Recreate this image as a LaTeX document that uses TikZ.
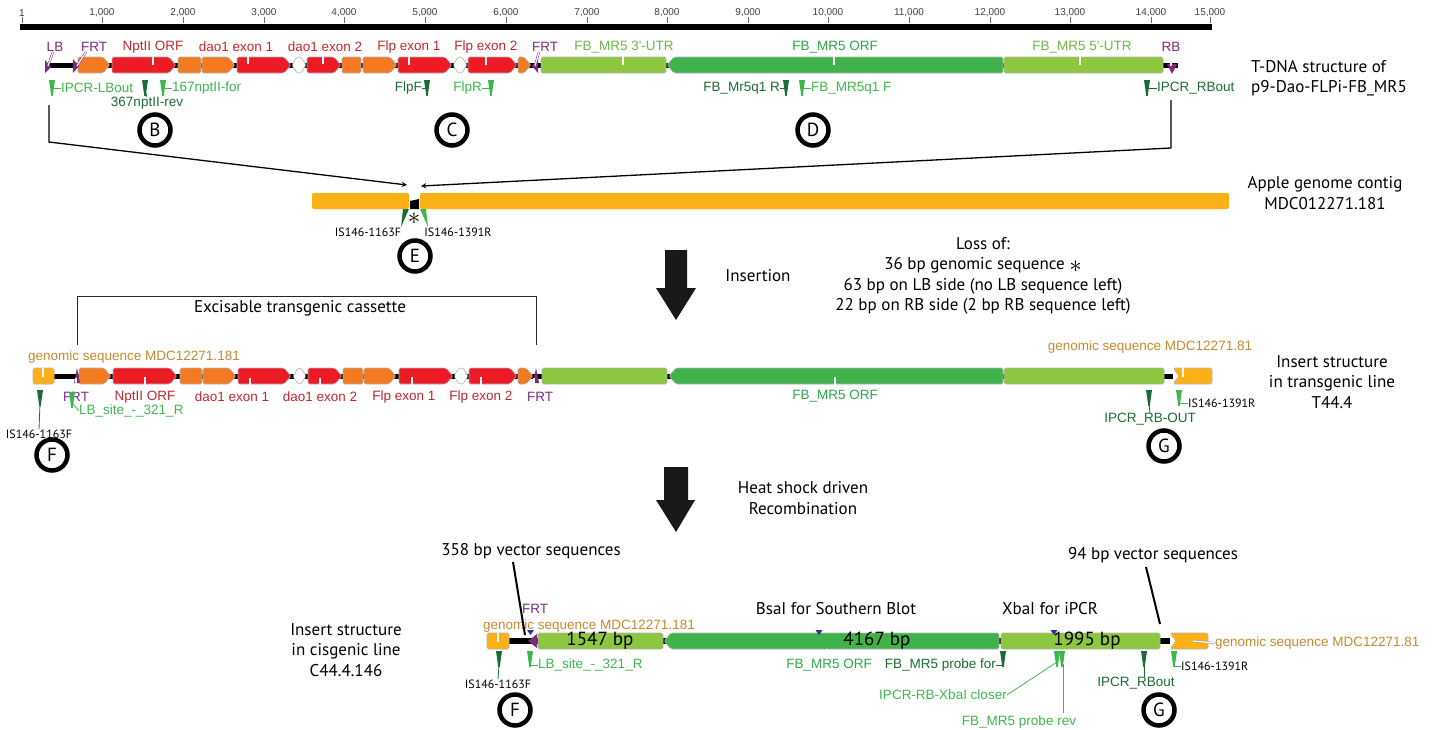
\documentclass[tikz,border=0pt]{standalone}
\usepackage{fontspec}
\setmainfont{PT Sans}
\newfontfamily\mapfont[Ligatures=TeXOff]{Liberation Sans}
\usepackage{xcolor}
\usetikzlibrary{shapes.geometric, arrows}

\definecolor{exred}{HTML}{ED1C24}
\definecolor{exorange}{HTML}{F37A21}
\definecolor{utrgreen}{HTML}{8DC63F}
\definecolor{orfgreen}{HTML}{3FB34A}
\definecolor{gengold}{HTML}{FBB116}
\definecolor{frtpurple}{HTML}{7D2A7F}
\definecolor{sitenavy}{HTML}{2E3192}
\definecolor{redtext}{HTML}{C0272D}
\definecolor{goldtext}{HTML}{C68A2E}
\definecolor{darkgreen}{HTML}{1D6B37}
\definecolor{lightgreen}{HTML}{3DB64B}
\definecolor{utrtext}{HTML}{6CB844}
\definecolor{orftext}{HTML}{2CA64A}

\tikzstyle{feat} = [draw=black!30, line width=0.6pt, rounded corners=1.5pt]
\tikzstyle{rlab} = [font=\mapfont\fontsize{10}{11}\selectfont, text=black!75, inner sep=0pt]
\tikzstyle{mlab} = [font=\mapfont\fontsize{13.5}{15}\selectfont, inner sep=0pt]
\tikzstyle{slab} = [font=\fontsize{12}{13}\selectfont, inner sep=0pt]
\tikzstyle{note} = [font=\fontsize{17}{20.5}\selectfont, align=center, inner sep=0pt]
\tikzstyle{bp} = [font=\fontsize{19}{20}\selectfont, inner sep=0pt]
\tikzstyle{letter} = [circle, draw=black, line width=4.5pt, minimum size=31pt, inner sep=0pt, font=\fontsize{19}{20}\selectfont]
\tikzstyle{arrow} = [line width=1.3pt,->,>=stealth]
\tikzstyle{labtick} = [draw=black!40, double=white, double distance=1.2pt, line width=0.5pt]
\tikzstyle{lead} = [line width=0.8pt]
\tikzstyle{pointer} = [line width=2pt]

\newcommand{\fwd}[4]{\draw[feat, fill=#4] (#1,#3-8) -- (#2-7,#3-8) -- (#2,#3) -- (#2-7,#3+8) -- (#1,#3+8) -- cycle;}
\newcommand{\rvs}[4]{\draw[feat, fill=#4] (#1,#3) -- (#1+7,#3-8) -- (#2,#3-8) -- (#2,#3+8) -- (#1+7,#3+8) -- cycle;}
\newcommand{\blk}[4]{\draw[feat, fill=#4] (#1,#3-8) rectangle (#2,#3+8);}
\newcommand{\hexa}[3]{\draw[feat, fill=white] (#1,#3) -- (#1+5,#3-8) -- (#2-5,#3-8) -- (#2,#3) -- (#2-5,#3+8) -- (#1+5,#3+8) -- cycle;}
\newcommand{\primer}[3]{\fill[#3] (#1-3,#2) -- (#1+3,#2) -- (#1+0.7,#2+16) -- (#1-0.7,#2+16) -- cycle;}
\newcommand{\bigast}{{\fontsize{24}{24}\selectfont$\ast$}}

\begin{document}
\begin{tikzpicture}[x=1pt, y=-1pt]
    \useasboundingbox (0,0) rectangle (1440,729);

    \fill (20,24) rectangle (1212,30);
    \foreach \x/\t in {22/1, 102/{1,000}, 183/{2,000}, 264/{3,000}, 344/{4,000}, 425/{5,000}, 506/{6,000}, 587/{7,000}, 667/{8,000}, 748/{9,000}, 828/{10,000}, 909/{11,000}, 990/{12,000}, 1070/{13,000}, 1151/{14,000}, 1210/{15,000}} {
        \node (r\x) [rlab] at (\x,13) {\t};
        \draw [black!60] (r\x.south) -- (\x,23);
    }

    \draw [line width=5pt] (47,65) -- (1178,65);
    \fwd{78}{110}{65}{exorange}
    \fwd{112}{176}{65}{exred}
    \blk{178}{201}{65}{exorange}
    \fwd{202}{235}{65}{exorange}
    \fwd{237}{291}{65}{exred}
    \hexa{292}{306}{65}
    \fwd{307}{341}{65}{exred}
    \blk{342}{361}{65}{exorange}
    \fwd{363}{397}{65}{exorange}
    \fwd{398}{452}{65}{exred}
    \hexa{453}{467}{65}
    \fwd{468}{517}{65}{exred}
    \fwd{518}{531}{65}{exorange}
    \blk{541}{666}{65}{utrgreen}
    \rvs{667}{1003}{65}{orfgreen}
    \blk{1004}{1163}{65}{utrgreen}
    \fill [frtpurple] (45,60) -- (51,67) -- (45,73) -- cycle;
    \fill [frtpurple] (73,59) -- (79,66) -- (73,73) -- cycle;
    \fill [frtpurple] (538,59) -- (532,66) -- (538,73) -- cycle;
    \fill [frtpurple] (1167,64) -- (1177,64) -- (1172,74) -- cycle;

    \node (lb) [mlab, text=frtpurple] at (55,47) {LB};
    \node (frta) [mlab, text=frtpurple] at (94,47) {FRT};
    \node (nptii) [mlab, text=redtext] at (153,47) {NptII ORF};
    \node (daoa) [mlab, text=redtext] at (236,47) {dao1 exon 1};
    \node (daob) [mlab, text=redtext] at (325,47) {dao1 exon 2};
    \node (flpa) [mlab, text=redtext] at (409,47) {Flp exon 1};
    \node (flpb) [mlab, text=redtext] at (486,47) {Flp exon 2};
    \node (frtb) [mlab, text=frtpurple] at (545,47) {FRT};
    \node (utr3) [mlab, text=utrtext] at (624,47) {FB\_MR5 3'-UTR};
    \node (orf) [mlab, text=orftext] at (835,47) {FB\_MR5 ORF};
    \node (utr5) [mlab, text=utrtext] at (1082,47) {FB\_MR5 5'-UTR};
    \node (rb) [mlab, text=frtpurple] at (1171,47) {RB};
    \draw [labtick, draw=frtpurple] ([xshift=-2pt]lb.south) -- (48,66);
    \draw [labtick, draw=frtpurple] ([xshift=-8pt]frta.south) -- (77,66);
    \draw [labtick] (nptii.south) -- ++(0,12);
    \draw [labtick] ([xshift=12pt]daoa.south) -- ++(0,12);
    \draw [labtick] ([xshift=-2pt]daob.south) -- ++(0,12);
    \draw [labtick] (flpa.south) -- ++(0,12);
    \draw [labtick] (flpb.south) -- ++(0,12);
    \draw [labtick, draw=frtpurple] ([xshift=-6pt]frtb.south) -- (535,66);
    \draw [labtick] ([xshift=-1pt]utr3.south) -- ++(0,12);
    \draw [labtick] ([xshift=-1pt]orf.south) -- ++(0,12);
    \draw [labtick] ([xshift=-2pt]utr5.south) -- ++(0,12);
    \draw [labtick, draw=frtpurple] (rb.south) -- ++(0,14);

    \primer{52}{80}{lightgreen}
    \primer{145}{80}{darkgreen}
    \primer{163}{80}{lightgreen}
    \primer{427}{80}{darkgreen}
    \primer{491}{80}{lightgreen}
    \primer{786}{80}{darkgreen}
    \primer{802}{80}{lightgreen}
    \primer{1147}{80}{darkgreen}
    \node (ipcrlb) [mlab, text=lightgreen, anchor=west] at (61,88) {IPCR-LBout};
    \node (rev367) [mlab, text=darkgreen] at (147,103) {367nptII-rev};
    \node (for167) [mlab, text=lightgreen, anchor=west] at (172,88) {167nptII-for};
    \node (flpf) [mlab, text=darkgreen, anchor=east] at (422,88) {FlpF};
    \node (flpr) [mlab, text=lightgreen, anchor=east] at (482,88) {FlpR};
    \node (qr) [mlab, text=darkgreen, anchor=east] at (780,88) {FB\_Mr5q1 R};
    \node (qf) [mlab, text=lightgreen, anchor=west] at (811,88) {FB\_MR5q1 F};
    \node (rbout) [mlab, text=darkgreen, anchor=west] at (1157,88) {IPCR\_RBout};
    \draw [lead, lightgreen] (53,88) -- (ipcrlb.west);
    \draw [lead, darkgreen] (145,90) -- (rev367.north);
    \draw [lead, lightgreen] (164,88) -- (for167.west);
    \draw [lead, darkgreen] (flpf.east) -- (427,88);
    \draw [lead, lightgreen] (flpr.east) -- (491,88);
    \draw [lead, darkgreen] (qr.east) -- (786,88);
    \draw [lead, lightgreen] (803,88) -- (qf.west);
    \draw [lead, darkgreen] (1148,88) -- (rbout.west);

    \node (B) [letter] at (155,130) {B};
    \node (C) [letter] at (452,130) {C};
    \node (D) [letter] at (813,130) {D};
    \node (tdna) [note, align=left, anchor=west] at (1251,78) {T-DNA structure of\\p9-Dao-FLPi-FB\_MR5};

    \coordinate (lbtop) at (49,105);
    \coordinate (lbknee) at (49,142);
    \coordinate (rbtop) at (1171,100);
    \coordinate (rbknee) at (1171,148);
    \coordinate (siteL) at (407,185);
    \coordinate (siteR) at (421,186);
    \draw [arrow] (lbtop) -- (lbknee) -- (siteL);
    \draw [arrow] (rbtop) -- (rbknee) -- (siteR);

    \fill [gengold, rounded corners=2pt] (312,193) rectangle (409,209);
    \fill [gengold, rounded corners=2pt] (420,193) rectangle (1229,209);
    \fill (410,201) -- (419,199) -- (419,209) -- (410,209) -- cycle;
    \fill [darkgreen] (403,209) -- (409,209) -- (401,227) -- cycle;
    \fill [lightgreen] (420,209) -- (426,209) -- (428,227) -- cycle;
    \node (star) at (414,219) {\bigast};
    \node (isfa) [slab] at (368,232) {IS146-1163F};
    \node (isra) [slab] at (458,232) {IS146-1391R};
    \node (E) [letter] at (415,256) {E};
    \node (contig) [note] at (1325,193) {Apple genome contig\\MDC012271.181};

    \fill [black!90] (665,250) -- (687,250) -- (687,288) -- (696,288) -- (676,320) -- (656,288) -- (665,288) -- cycle;
    \node (ins) [note] at (758,276) {Insertion};
    \node (loss) [note] at (983,276) {Loss of:\\36 bp genomic sequence \raisebox{-3pt}{\bigast}\\63 bp on LB side (no LB sequence left)\\22 bp on RB side (2 bp RB sequence left)};

    \coordinate (brL) at (77,345);
    \coordinate (brR) at (536,345);
    \draw [line width=1pt, black!85] (brL) -- (77,296) -- (536,296) -- (brR);
    \node (cassette) [note] at (300,308) {Excisable transgenic cassette};

    \draw [line width=5pt] (54,376) -- (1173,376);
    \draw [feat, fill=gengold] (33,368) rectangle (54,384);
    \fwd{79}{111}{376}{exorange}
    \fwd{113}{177}{376}{exred}
    \blk{180}{202}{376}{exorange}
    \fwd{203}{236}{376}{exorange}
    \fwd{238}{291}{376}{exred}
    \hexa{293}{306}{376}
    \fwd{308}{342}{376}{exred}
    \blk{343}{363}{376}{exorange}
    \fwd{364}{396}{376}{exorange}
    \fwd{399}{453}{376}{exred}
    \hexa{454}{468}{376}
    \fwd{469}{517}{376}{exred}
    \fwd{518}{533}{376}{exorange}
    \blk{542}{667}{376}{utrgreen}
    \rvs{669}{1003}{376}{orfgreen}
    \blk{1004}{1164}{376}{utrgreen}
    \draw [feat, fill=gengold] (1173,368) -- (1212,368) -- (1212,384) -- (1173,384) -- (1179,376) -- cycle;
    \fill [frtpurple] (74,383) -- (77,368) -- (80,383) -- cycle;
    \fill [frtpurple] (533,383) -- (536,368) -- (539,383) -- cycle;

    \node (gena) [mlab, text=goldtext] at (134,357) {genomic sequence MDC12271.181};
    \node (genb) [mlab, text=goldtext] at (1150,347) {genomic sequence MDC12271.81};
    \node (frtc) [mlab, text=frtpurple] at (76,397) {FRT};
    \node (npti) [mlab, text=redtext] at (145,397) {NptII ORF};
    \node (daoc) [mlab, text=redtext] at (232,397) {dao1 exon 1};
    \node (daod) [mlab, text=redtext] at (320,397) {dao1 exon 2};
    \node (flpc) [mlab, text=redtext] at (404,397) {Flp exon 1};
    \node (flpd) [mlab, text=redtext] at (481,397) {Flp exon 2};
    \node (frtd) [mlab, text=frtpurple] at (540,397) {FRT};
    \node (orfb) [mlab, text=orftext] at (835,396) {FB\_MR5 ORF};
    \draw [labtick] (43,363) -- (43,377);
    \draw [labtick] (1183,352) -- (1183,377);
    \draw [labtick, draw=frtpurple] (frtc.north) -- ++(0,-14);
    \draw [labtick] (npti.north) -- ++(0,-14);
    \draw [labtick] ([xshift=18pt]daoc.north) -- ++(0,-14);
    \draw [labtick] (daod.north) -- ++(0,-14);
    \draw [labtick] ([xshift=8pt]flpc.north) -- ++(0,-14);
    \draw [labtick] (flpd.north) -- ++(0,-14);
    \draw [labtick, draw=frtpurple] ([xshift=-6pt]frtd.north) -- ++(0,-14);
    \draw [labtick] (orfb.north) -- ++(0,-13);

    \primer{40}{390}{darkgreen}
    \primer{72}{392}{lightgreen}
    \primer{1149}{390}{darkgreen}
    \primer{1179}{390}{lightgreen}
    \node (isfb) [slab] at (39,434) {IS146-1163F};
    \node (lbsite) [mlab, text=lightgreen, anchor=west] at (79,411) {LB\_site\_-\_321\_R};
    \node (rbouta) [mlab, text=darkgreen] at (1150,419) {IPCR\_RB-OUT};
    \node (isrb) [slab, anchor=west] at (1188,403) {IS146-1391R};
    \draw [lead, darkgreen] (40,404) -- (isfb.north);
    \draw [lead, lightgreen] (73,404) -- (lbsite.west);
    \draw [lead, darkgreen] (1149,404) -- (rbouta.north);
    \draw [lead, lightgreen] (1180,403) -- (isrb.west);
    \node (F) [letter] at (52,455) {F};
    \node (G) [letter] at (1164,446) {G};
    \node (tgline) [note] at (1332,382) {Insert structure\\in transgenic line\\T44.4};

    \fill [black!90] (664,467) -- (688,467) -- (688,500) -- (695,500) -- (676,532) -- (656,500) -- (664,500) -- cycle;
    \node (heat) [note] at (803,498) {Heat shock driven\\Recombination};

    \node (vec358) [note] at (531,551) {358 bp vector sequences};
    \node (vec94) [note] at (1153,555) {94 bp vector sequences};
    \node (bsai) [note] at (836,609) {BsaI for Southern Blot};
    \node (xbai) [note] at (1050,609) {XbaI for iPCR};
    \node (frte) [mlab, text=frtpurple] at (535,609) {FRT};
    \node (genc) [mlab, text=goldtext] at (589,626) {genomic sequence MDC12271.181};
    \node (cisline) [note] at (346,650) {Insert structure\\in cisgenic line\\C44.4.146};

    \draw [line width=6pt] (509,641) -- (1170,641);
    \draw [feat, fill=gengold] (487,633) rectangle (509,649);
    \fill [frtpurple] (537,634) -- (528,641) -- (537,648) -- cycle;
    \blk{538}{663}{641}{utrgreen}
    \rvs{664}{999}{641}{orfgreen}
    \blk{1001}{1160}{641}{utrgreen}
    \draw [feat, fill=gengold] (1170,633) -- (1208,633) -- (1208,649) -- (1170,649) -- (1176,641) -- cycle;
    \fill [sitenavy] (527,630) -- (534,630) -- (530.5,635) -- cycle;
    \fill [sitenavy] (815.5,630) -- (822.5,630) -- (819,635) -- cycle;
    \fill [sitenavy] (1050.5,630) -- (1057.5,630) -- (1054,635) -- cycle;
    \node (bpa) [bp] at (600,641) {1547 bp};
    \node (bpb) [bp] at (877,641) {4167 bp};
    \node (bpc) [bp] at (1087,641) {1995 bp};
    \draw [labtick] (genc.south -| 498,0) -- (498,642);
    \node (gend) [mlab, text=goldtext, anchor=west] at (1215,643) {genomic sequence MDC12271.81};
    \draw [labtick] (1193,641) -- (gend.west);
    \draw [pointer] (vec358.south) ++(-18pt,-3pt) -- (525,635);
    \draw [pointer] (vec94.south) ++(-7pt,-4pt) -- (1160,624);

    \node (orfc) [mlab, text=orftext] at (829,665) {FB\_MR5 ORF};
    \draw [labtick] ([xshift=-2pt]orfc.north) -- (827,649);
    \primer{499}{651}{darkgreen}
    \primer{530}{651}{lightgreen}
    \primer{1003}{651}{darkgreen}
    \primer{1057}{651}{lightgreen}
    \primer{1062}{651}{lightgreen}
    \primer{1144}{651}{darkgreen}
    \primer{1174}{651}{lightgreen}
    \node (isfc) [slab] at (498,684) {IS146-1163F};
    \node (lbsiteb) [mlab, text=lightgreen, anchor=west] at (538,665) {LB\_site\_-\_321\_R};
    \node (probef) [mlab, text=darkgreen, anchor=east] at (996,665) {FB\_MR5 probe for};
    \node (closer) [mlab, text=lightgreen] at (943,695) {IPCR-RB-XbaI closer};
    \node (prober) [mlab, text=lightgreen] at (1019,722) {FB\_MR5 probe rev};
    \node (rboutb) [mlab, text=darkgreen] at (1136,683) {IPCR\_RBout};
    \node (isrc) [slab, anchor=west] at (1181,666) {IS146-1391R};
    \draw [lead, darkgreen] (499,665) -- (isfc.north);
    \draw [lead, lightgreen] (531,665) -- (lbsiteb.west);
    \draw [lead, darkgreen] (probef.east) -- (1003,665);
    \draw [lead, lightgreen] (closer.east) -- (1057,662);
    \draw [lead, lightgreen] (1063,664) -- (1063,713);
    \draw [lead, darkgreen] (1144,665) -- (rboutb.north -| 1144,0);
    \draw [lead, lightgreen] (1175,666) -- (isrc.west);
    \node (Fb) [letter] at (515,710) {F};
    \node (Gb) [letter] at (1159,710) {G};
\end{tikzpicture}
\end{document}
